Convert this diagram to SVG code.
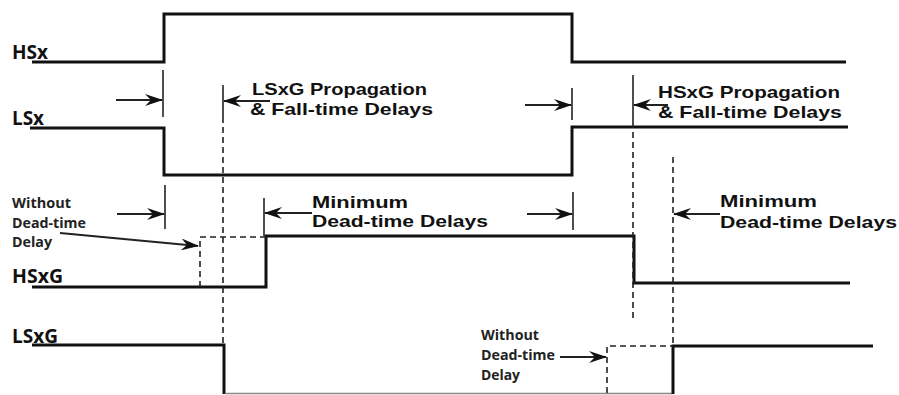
<svg xmlns="http://www.w3.org/2000/svg" width="899" height="395" viewBox="0 0 899 395">
<style>
.sig{fill:none;stroke:#111;stroke-width:3;stroke-linejoin:miter}
.dash{fill:none;stroke:#222;stroke-width:1.6;stroke-dasharray:6,4}
.tick{fill:none;stroke:#222;stroke-width:1.6}
.arr{fill:none;stroke:#222;stroke-width:1.8;marker-end:url(#ah)}
.lbl{font-family:"Open Sans","Liberation Sans",sans-serif;font-weight:700;font-size:19px;fill:#111}
.big{font-family:"Liberation Sans",Arial,sans-serif;font-weight:700;font-size:17px;fill:#111}
.sm{font-family:"Open Sans","Liberation Sans",sans-serif;font-weight:700;font-size:13.5px;fill:#222}
</style>
<defs>
<marker id="ah" viewBox="0 0 18 12" refX="17" refY="6" markerWidth="18" markerHeight="12" markerUnits="userSpaceOnUse" orient="auto">
<path d="M0,0 L18,6 L0,12 L6,6 Z" fill="#111"/>
</marker>
</defs>
<rect width="899" height="395" fill="#fff"/>

<g id="HSx">
<text class="lbl" x="12" y="59" textLength="36" lengthAdjust="spacingAndGlyphs">HSx</text>
<path class="sig" d="M32,62 H164 V14 H572 V62 H846"/>
</g>
<g id="LSx">
<text class="lbl" x="12" y="125" textLength="32" lengthAdjust="spacingAndGlyphs">LSx</text>
<path class="sig" d="M30,128 H164 V175 H572 V127 H848"/>
</g>
<g id="HSxG">
<text class="lbl" x="12" y="283" textLength="51" lengthAdjust="spacingAndGlyphs">HSxG</text>
<path class="sig" d="M32,287 H266 V236 H634 V283 H850"/>
<path class="dash" d="M200,287 V237 H266"/>
</g>
<g id="LSxG">
<text class="lbl" x="12" y="343" textLength="46" lengthAdjust="spacingAndGlyphs">LSxG</text>
<path class="sig" d="M32,345 H224 V394"/>
<path d="M225,393.5 H672" fill="none" stroke="#888" stroke-width="1.5"/>
<path class="sig" d="M673,394 V346 H873"/>
<path class="dash" d="M607,393 V346 H673"/>
</g>

<g id="label-lsxg-prop">
<text class="big" x="252" y="95" textLength="175" lengthAdjust="spacingAndGlyphs">LSxG Propagation</text>
<text class="big" x="250" y="115" textLength="183" lengthAdjust="spacingAndGlyphs">&amp; Fall-time Delays</text>
</g>
<g id="label-hsxg-prop">
<text class="big" x="658" y="98" textLength="182" lengthAdjust="spacingAndGlyphs">HSxG Propagation</text>
<text class="big" x="658" y="118" textLength="184" lengthAdjust="spacingAndGlyphs">&amp; Fall-time Delays</text>
</g>
<g id="label-min-1">
<text class="big" x="312" y="208" textLength="96" lengthAdjust="spacingAndGlyphs">Minimum</text>
<text class="big" x="312" y="227" textLength="176" lengthAdjust="spacingAndGlyphs">Dead-time Delays</text>
</g>
<g id="label-min-2">
<text class="big" x="720" y="207" textLength="97" lengthAdjust="spacingAndGlyphs">Minimum</text>
<text class="big" x="720" y="228" textLength="177" lengthAdjust="spacingAndGlyphs">Dead-time Delays</text>
</g>
<g id="note-1">
<text class="sm" x="12" y="208" textLength="59" lengthAdjust="spacingAndGlyphs">Without</text>
<text class="sm" x="12" y="228" textLength="74" lengthAdjust="spacingAndGlyphs">Dead-time</text>
<text class="sm" x="12" y="247" textLength="40" lengthAdjust="spacingAndGlyphs">Delay</text>
</g>
<g id="note-2">
<text class="sm" x="481" y="340" textLength="58" lengthAdjust="spacingAndGlyphs">Without</text>
<text class="sm" x="481" y="360" textLength="74" lengthAdjust="spacingAndGlyphs">Dead-time</text>
<text class="sm" x="481" y="380" textLength="39" lengthAdjust="spacingAndGlyphs">Delay</text>
</g>

<g id="connectors">
<path class="tick" d="M163,70 V117"/>
<path class="arr" d="M116,100 H162"/>
<path class="tick" d="M223,85 V117"/>
<path class="dash" d="M223,117 V345"/>
<path class="arr" d="M270,101 H224"/>
<path class="tick" d="M572,88 V120"/>
<path class="arr" d="M525,105 H571"/>
<path class="tick" d="M633,75 V122"/>
<path class="dash" d="M633,122 V322"/>
<path class="arr" d="M668,105 H634"/>
<path class="dash" d="M673,157 V346"/>
<path class="tick" d="M165,185 V229"/>
<path class="arr" d="M117,214 H164"/>
<path class="tick" d="M264,198 V236"/>
<path class="arr" d="M312,213 H265"/>
<path class="tick" d="M573,192 V230"/>
<path class="arr" d="M527,214 H572"/>
<path class="arr" d="M720,214 H674"/>
<path class="arr" d="M60,233 L198,246"/>
<path class="arr" d="M560,357 H606"/>
</g>
</svg>
